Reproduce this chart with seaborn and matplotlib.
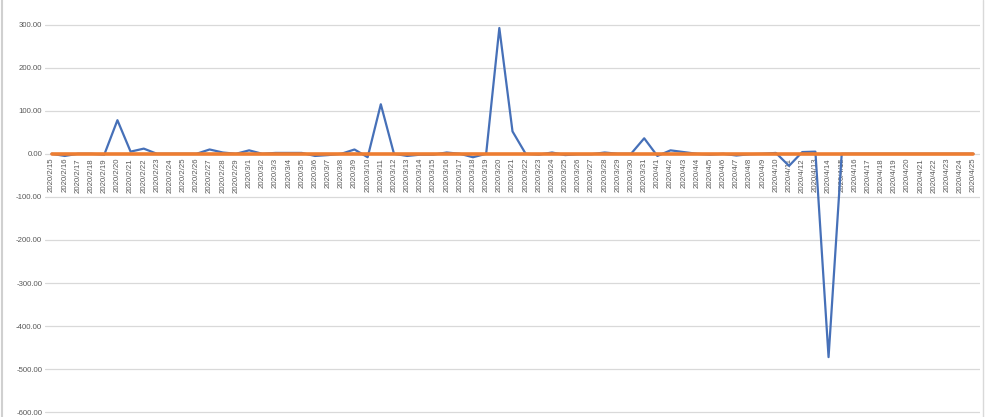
import matplotlib
matplotlib.use("Agg")
import matplotlib.pyplot as plt
import seaborn as sns
import pandas as pd
import numpy as np

dates = pd.date_range("2020-02-15", "2020-04-25", freq="D")
date_labels = [f"{d.year}/{d.month}/{d.day}" for d in dates]

series_blue = [0, -5, 0, 0, -2, 78, 5, 12, 0, 0,
               0, 0, 10, 3, 0, 8, 0, 2, 2, 2,
               -5, -3, 0, 10, -8, 115, 0, -5, -2, -2,
               3, 0, -8, 0, 292, 52, 0, -2, 3, -3,
               -1, -1, 3, 0, 0, 36, -5, 8, 4, 0,
               -2, 0, -4, -1, 0, 2, -28, 4, 5, -472,
               0, 0, 0, 0, 0, 0, 0, 0, 0, 0, 0]
series_orange = [0.5] * len(date_labels)

y_ticks = [300, 200, 100, 0, -100, -200, -300, -400, -500, -600]

df = pd.DataFrame({"idx": np.arange(len(date_labels)),
                   "blue": series_blue, "orange": series_orange})

sns.set_style("white")
plt.rcParams['font.family'] = ['Liberation Sans', 'DejaVu Sans']

fig = plt.figure(figsize=(9.91, 4.17), dpi=100)
ax = fig.add_axes([45/991, 0, 935/991, 1])
ax.spines['bottom'].set_position(('data', 0))

for y in y_ticks:
    ax.axhline(y, color="#d9d9d9", lw=0.9, zorder=0)

sns.lineplot(data=df, x="idx", y="blue", ax=ax, color="#4670B8", lw=1.6, zorder=3)
sns.lineplot(data=df, x="idx", y="orange", ax=ax, color="#ED7D31", lw=2.6, zorder=4)

ax.set_xlim(-0.5, len(date_labels) - 0.5)
ax.set_ylim(-611, 357)
ax.set_yticks(y_ticks)
ax.set_yticklabels([f"{v:.2f}" for v in y_ticks], fontsize=5.6, color="#595959")
ax.set_xticks(np.arange(len(date_labels)))
ax.set_xticklabels(date_labels, rotation=90, fontsize=5.6, color="#595959")
for s in ax.spines.values():
    s.set_visible(False)
ax.tick_params(axis='both', length=0, pad=2)
ax.tick_params(axis='x', pad=3)
ax.set_xlabel("")
ax.set_ylabel("")

# screenshot border lines
fig.add_artist(plt.Line2D([2/991, 2/991], [0, 1], color="#d0d0d0", lw=1.5))
fig.add_artist(plt.Line2D([983/991, 983/991], [0, 1], color="#d9d9d9", lw=1))

fig.savefig("out.png", dpi=100)
